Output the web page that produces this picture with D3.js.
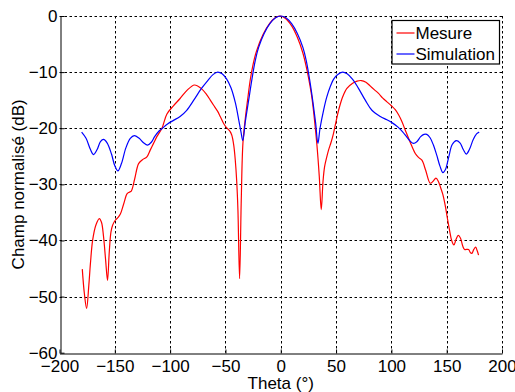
<!DOCTYPE html>
<html>
<head>
<meta charset="utf-8">
<script src="https://cdn.jsdelivr.net/npm/d3@7"></script>
<style>
  html, body { margin: 0; padding: 0; background: #fff; }
  svg { display: block; font-family: "Liberation Sans", Arial, sans-serif; }
</style>
</head>
<body>
<svg id="chart" width="515" height="392"></svg>
<script>
const xTicks = [-200, -150, -100, -50, 0, 50, 100, 150, 200];
const yTicks = [-60, -50, -40, -30, -20, -10, 0];
const seriesNames = ["Mesure", "Simulation"];
const xLabel = "Theta (°)";
const yLabel = "Champ normalisé (dB)";

const thetaSim = [-180,-176,-172,-169.2,-166,-163,-160.2,-157,-153,-150,-147.2,-144,-140,-136,-132.4,-128,-124,-120.4,-117,-114,-110,-107,-102,-97,-91,-85,-78,-72,-66,-61,-57,-53,-49,-45,-41,-38,-36,-34.3,-32,-29,-26,-23,-20,-15,-10,-5,0,5,10,15,20,23,26,29,31.5,33.6,35.5,38.7,41.5,44.7,48,51,55.9,60,65,70,76.4,82.4,90,96,100.5,106,110,114,117,120,123,126.5,129.5,132,135,138,141,144,146.6,149,152,155,158.7,162,165,167.7,170.5,174,177,179.4];
const simulation = [-20.7,-21.8,-23.8,-24.7,-23.8,-22.4,-22.0,-22.6,-24.6,-26.7,-27.6,-26.3,-23.5,-21.8,-21.3,-21.8,-22.6,-23.0,-22.5,-21.5,-20.5,-20.0,-19.2,-18.6,-17.9,-16.8,-14.8,-13.0,-11.5,-10.4,-10.0,-10.3,-11.2,-12.8,-15.5,-18.5,-20.6,-22.2,-18.8,-15.0,-11.2,-7.9,-5.6,-3.1,-1.4,-0.35,0,-0.35,-1.4,-3.1,-5.6,-7.9,-11.2,-15.2,-19.0,-22.7,-20.0,-16.8,-14.5,-12.6,-11.2,-10.5,-10.0,-10.3,-11.3,-12.8,-15.0,-16.8,-17.9,-18.5,-19.0,-19.8,-20.6,-21.6,-22.3,-22.7,-22.4,-21.5,-21.1,-21.1,-21.7,-23.0,-24.8,-26.8,-27.9,-27.3,-25.0,-22.9,-22.2,-22.6,-23.8,-24.6,-23.8,-22.0,-21.0,-20.7];

const thetaMes = [-179.4,-177.5,-175.5,-173.5,-172,-170,-167,-164,-162,-160.2,-158.3,-156.6,-155,-153.5,-152,-149.6,-147,-145,-142,-139,-137,-135.1,-132,-128.5,-125,-121,-118,-115,-112,-107.4,-103,-97,-91,-85,-78,-72,-67,-63.7,-60.7,-57,-54.7,-51.5,-48.6,-46,-44.3,-42.5,-41.1,-39.8,-38.7,-37.2,-35.7,-34.2,-32,-30,-27.6,-25,-22,-16,-10,-5,-1,4,10,15,20,24,26.5,28.2,30.5,32.7,34.8,36.6,38.2,39.6,41.5,43.2,45.5,47.7,50,52.3,56,59.8,65,69,72.8,77,81,85,88.4,92,96,100,103.5,106.5,109.5,112.5,117,121.6,124.5,127.6,131,135.1,137.5,140.3,142.5,144.2,146.5,148.7,150.6,152.6,154.5,156.5,158.5,160.5,162.5,164.5,166.2,169.8,171.5,172.8,174.5,176.2,177.5,178.8];
const mesure = [-45.1,-49.5,-52.1,-48,-44,-39.9,-37.2,-36.1,-36.8,-39.3,-43.5,-47.1,-42,-38.5,-37.3,-36.4,-35.9,-35.3,-33.5,-31.7,-31.4,-31.2,-29,-26.3,-25.6,-25.1,-23.9,-22.7,-21.5,-20,-17.5,-16,-14.7,-13.3,-12.3,-12.9,-14.0,-15.0,-15.9,-17.0,-17.9,-19.2,-20.0,-20.5,-21.2,-23.0,-25.7,-29.5,-34.6,-46.8,-32.8,-22.7,-18.2,-15.0,-11.4,-8.6,-6.3,-3.3,-1.3,-0.3,0,-0.4,-1.8,-3.8,-6.6,-9.9,-12.5,-14.6,-18.5,-23.0,-28.5,-34.5,-29.5,-26.9,-25.2,-23.9,-22.5,-20.9,-18.8,-16.8,-14.4,-12.9,-12.0,-11.6,-11.5,-11.8,-12.5,-13.2,-13.8,-14.6,-15.3,-16.0,-16.7,-17.6,-18.8,-20.3,-22.5,-24.5,-25.2,-25.7,-27.5,-29.8,-29.5,-28.9,-29.5,-30.4,-31.8,-33.8,-36.0,-38.2,-40.0,-40.8,-39.8,-39.1,-39.6,-41.0,-41.6,-41.6,-42.2,-42.3,-41.6,-41.2,-41.8,-42.6];

const colors = ["#ff0000", "#0000ff"];

const svg = d3.select("#chart");
const x = d3.scaleLinear().domain([-200, 200]).range([59.5, 502]);
const y = d3.scaleLinear().domain([-60, 0]).range([352.7, 16]);

// grid
const grid = svg.append("g");
grid.selectAll("line.v").data(xTicks.filter(d => d !== -200)).enter().append("line")
  .attr("x1", d => Math.round(x(d)) + 0.5).attr("x2", d => Math.round(x(d)) + 0.5)
  .attr("y1", y(0)).attr("y2", y(-60))
  .attr("stroke", "#000").attr("stroke-width", 1).attr("stroke-dasharray", "2.5,2.5");
grid.selectAll("line.h").data(yTicks.filter(d => d !== -60)).enter().append("line")
  .attr("y1", d => Math.round(y(d)) + 0.5).attr("y2", d => Math.round(y(d)) + 0.5)
  .attr("x1", x(-200)).attr("x2", x(200))
  .attr("stroke", "#000").attr("stroke-width", 1).attr("stroke-dasharray", "2.5,2.5");

// axes
const fs = 17;
const xAxis = d3.axisBottom(x).tickValues(xTicks).tickSizeInner(-4).tickSizeOuter(0).tickPadding(6).tickFormat(d3.format("d"));
const yAxis = d3.axisLeft(y).tickValues(yTicks).tickSizeInner(-4).tickSizeOuter(0).tickPadding(3).tickFormat(d3.format("d"));
const gx = svg.append("g").attr("transform", `translate(0,${Math.round(y(-60)) + 0.5})`).call(xAxis);
const gy = svg.append("g").attr("transform", `translate(${Math.round(x(-200)) + 0.5},0)`).call(yAxis);
[gx, gy].forEach(g => {
  g.select(".domain").attr("stroke", "#000").attr("stroke-width", 1);
  g.selectAll(".tick line").attr("stroke", "#000");
  g.selectAll(".tick text").attr("font-size", fs).attr("fill", "#000")
    .attr("font-family", "'Liberation Sans', Arial, sans-serif");
});
gx.selectAll(".tick text").attr("dy", "0.75em");

svg.append("text").attr("x", x(0)).attr("y", 389).attr("text-anchor", "middle")
  .attr("font-size", fs).text(xLabel);
svg.append("text").attr("transform", `translate(24,${(y(0) + y(-60)) / 2}) rotate(-90)`)
  .attr("text-anchor", "middle").attr("font-size", fs).text(yLabel);

// lines
const line = d3.line().x(d => x(d[0])).y(d => y(d[1])).curve(d3.curveCatmullRom.alpha(0.5));
const simData = thetaSim.map((t, i) => [t, simulation[i]]);
const mesData = thetaMes.map((t, i) => [t, mesure[i]]);
svg.append("path").datum(mesData).attr("d", line).attr("fill", "none")
  .attr("stroke", colors[0]).attr("stroke-width", 1.2);
svg.append("path").datum(simData).attr("d", line).attr("fill", "none")
  .attr("stroke", colors[1]).attr("stroke-width", 1.2);

// legend
const lg = svg.append("g");
lg.append("rect").attr("x", 392).attr("y", 20.5).attr("width", 107.5).attr("height", 43.5)
  .attr("fill", "#fff").attr("stroke", "#000").attr("stroke-width", 1.2);
seriesNames.forEach((name, i) => {
  const cy = 33 + i * 21;
  lg.append("line").attr("x1", 396.5).attr("x2", 414.5).attr("y1", cy).attr("y2", cy)
    .attr("stroke", colors[i]).attr("stroke-width", 1.2);
  lg.append("text").attr("x", 415.5).attr("y", cy).attr("dy", "0.36em")
    .attr("font-size", fs).attr("fill", "#000").text(name);
});
</script>
</body>
</html>
